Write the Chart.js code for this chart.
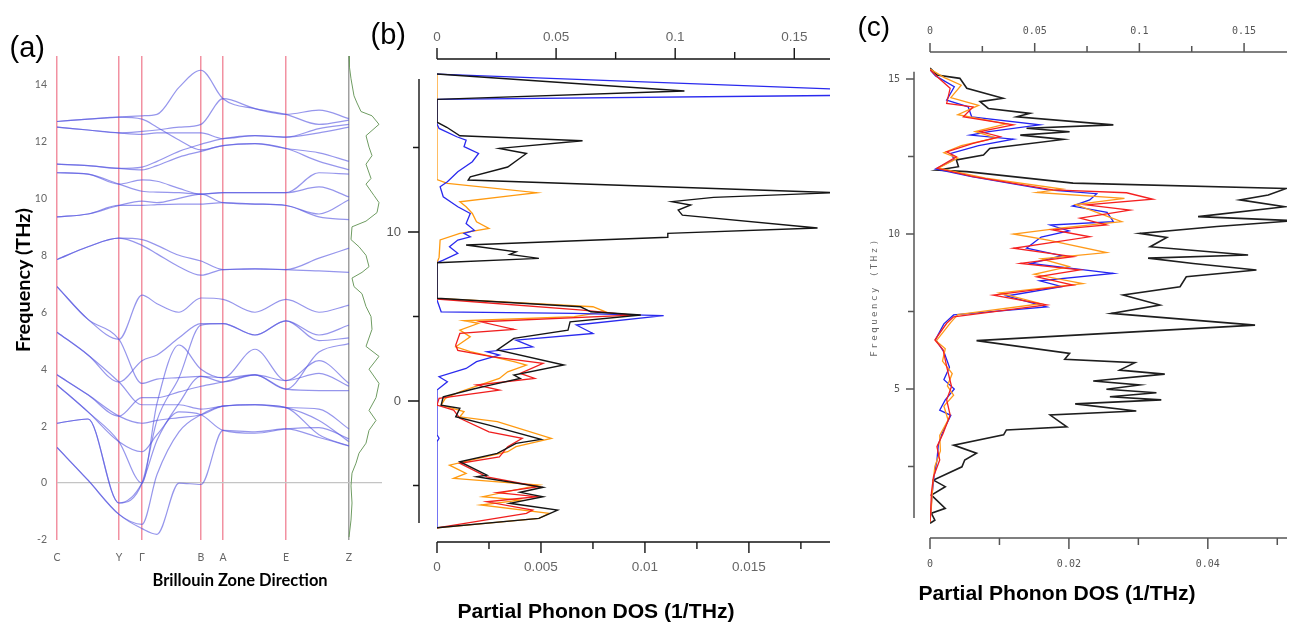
<!DOCTYPE html>
<html>
<head>
<meta charset="utf-8">
<script src="https://cdn.jsdelivr.net/npm/chart.js@4.4.1/dist/chart.umd.min.js"></script>
<style>
  body { margin: 0; background: #fff; width: 1294px; height: 625px; position: relative; overflow: hidden; }
  canvas { position: absolute; top: 0; }
</style>
</head>
<body>
<canvas id="bandChart" width="400" height="625" style="left:0"></canvas>
<canvas id="dosChartB" width="480" height="625" style="left:360px"></canvas>
<canvas id="dosChartC" width="454" height="625" style="left:840px"></canvas>
<script>
/*******  Data for panel (a): phonon band structure ******/
var kPos = [0, 31, 62, 85, 100, 122, 144, 166, 198, 229, 262, 292];
var kTickPos = [0, 62, 85, 144, 166, 229, 292];
var kLabels = ['C', 'Y', 'Γ', 'B', 'A', 'E', 'Z'];
var freqTicksA = [-2, 0, 2, 4, 6, 8, 10, 12, 14];

var bands = [
  [12.7, 12.78, 12.85, 12.9, 12.95, 13.9, 14.5, 13.5, 13.15, 12.95, 13.1, 12.8],
  [12.7, 12.78, 12.85, 12.78, 12.5, 12.05, 11.7, 11.85, 11.92, 11.75, 11.6, 11.3],
  [12.5, 12.4, 12.3, 12.35, 12.4, 12.5, 12.6, 13.5, 13.15, 12.95, 12.6, 12.75],
  [12.5, 12.4, 12.3, 12.25, 12.3, 12.3, 12.3, 12.1, 12.2, 12.15, 12.3, 12.5],
  [11.2, 11.15, 11.05, 11.1, 11.3, 11.65, 11.9, 12.1, 12.2, 12.15, 12.45, 12.6],
  [11.2, 11.15, 11.05, 11.0, 11.15, 11.45, 11.65, 11.85, 11.92, 11.75, 11.3, 11.0],
  [10.9, 10.85, 10.5, 10.65, 10.6, 10.35, 10.15, 10.2, 10.2, 10.2, 10.9, 10.85],
  [10.9, 10.85, 10.5, 10.25, 10.22, 10.2, 10.15, 10.2, 10.2, 10.2, 10.4, 10.05],
  [9.35, 9.45, 9.75, 9.9, 9.85, 10.0, 10.15, 9.85, 9.8, 9.75, 9.45, 9.95],
  [9.35, 9.45, 9.75, 9.75, 9.78, 9.8, 9.8, 9.85, 9.8, 9.75, 9.35, 9.25],
  [7.85, 8.3, 8.6, 8.55, 8.35, 8.0, 7.8, 7.5, 7.52, 7.5, 7.9, 8.25],
  [7.85, 8.3, 8.6, 8.35, 8.05, 7.6, 7.3, 7.5, 7.52, 7.5, 7.45, 7.4],
  [6.9, 5.75, 5.05, 6.6, 6.3, 6.0, 6.5, 6.45, 6.0, 6.45, 6.0, 6.25],
  [5.3, 4.5, 3.55, 4.3, 4.5, 5.1, 5.6, 5.6, 5.2, 5.7, 5.2, 5.55],
  [5.3, 4.5, 3.55, 2.75, 2.75, 2.75, 2.6, 2.7, 2.75, 2.65, 2.6, 1.9],
  [6.9, 5.75, 5.05, 3.5, 3.65, 3.7, 3.75, 3.7, 4.7, 3.6, 4.3, 3.5],
  [3.8, 3.1, 2.35, 3.0, 3.0, 3.2, 3.4, 3.55, 3.8, 3.3, 4.6, 4.9],
  [3.8, 3.1, 2.35, 2.1, 2.2, 2.3, 2.4, 2.7, 2.75, 2.65, 2.2, 1.45],
  [3.45, 2.5, 1.45, 1.1, 1.7, 2.5, 2.4, 1.85, 1.75, 1.9, 1.95, 1.55],
  [3.45, 2.5, 1.45, 0, 2.8, 4.85, 4.0, 3.7, 3.8, 3.6, 3.85, 3.4],
  [2.1, 2.25, -0.7, 0, 2.2, 3.7, 5.55, 5.6, 5.2, 5.7, 5.0, 5.1],
  [2.1, 2.25, -0.7, 0, 1.5, 2.8, 3.75, 3.55, 3.8, 3.3, 3.25, 3.25],
  [1.25, 0.1, -1.1, -1.45, 0.3, 1.8, 2.4, 2.7, 2.75, 2.65, 1.7, 1.3],
  [1.25, 0.1, -1.1, -1.6, -1.8, 0.0, -0.05, 1.85, 1.8, 1.9, 1.6, 1.3]
];

// total DOS drawn beside the Z point (frequency, relative DOS)
var totalDosFreq = [15.0, 14.6, 14.2, 13.6, 13.35, 13.05, 12.9, 12.6, 12.2, 11.8, 11.5, 11.2, 10.7, 10.5, 10.1, 9.85, 9.5, 9.2, 9.0, 8.55, 8.3, 8.0, 7.6, 7.4, 7.2, 6.9, 6.65, 6.2, 5.85, 5.4, 4.8, 4.45, 4.0, 3.5, 3.0, 2.55, 2.2, 1.85, 1.4, 1.05, 0.7, 0.35, -0.1, -0.7, -1.3, -1.9];
var totalDos = [0, 0.5, 2, 5, 8, 12, 23, 30, 17, 20, 23, 17, 22, 17, 25, 30, 28, 17, 3, 2, 10, 17, 20, 13, 3, 5, 13, 17, 22, 23, 17, 30, 20, 30, 27, 20, 27, 20, 17, 10, 7, 3, 2, 3, 2, 0];

/*******  Data for panel (b): partial DOS ******/
var bBlackFreq = [19.35, 18.35, 17.85, 16.5, 16.2, 15.7, 15.4, 14.95, 14.65, 13.85, 13.27, 13.08, 12.33, 12.05, 11.8, 11.6, 11.3, 11.0, 10.24, 9.92, 9.69, 9.23, 8.83, 8.68, 8.44, 8.18, 6.08, 5.58, 5.28, 5.09, 4.69, 4.2, 3.71, 3.02, 2.13, 1.54, 1.34, 0.9, 0.7, 0.25, -0.24, -0.43, -0.93, -1.42, -2.27, -2.5, -3.1, -3.59, -4.38, -4.48, -5.1, -5.4, -5.66, -6.05, -6.45, -6.94, -7.5];
var bBlackDos = [0, 0.0119, 0, 0, 0.00047, 0.0011, 0.0070, 0.0030, 0.0043, 0.0034, 0.0016, 0.0015, 0.0192, 0.0133, 0.0113, 0.0122, 0.0116, 0.0118, 0.0183, 0.0111, 0.0111, 0.0014, 0.0038, 0.0035, 0.0049, 0, 0, 0.0069, 0.0074, 0.0098, 0.0064, 0.0063, 0.0037, 0.0029, 0.0061, 0.0037, 0.0040, 0.0024, 0.0017, 0.0003, 0.0002, 0.0011, 0.0009, 0.0025, 0.0050, 0.0038, 0.0029, 0.0011, 0.0024, 0.0019, 0.0051, 0.0040, 0.0051, 0.0035, 0.0058, 0.0049, 0];

var bBlueFreq = [19.35, 18.4, 18.1, 17.85, 16.4, 16.13, 15.64, 15.44, 15.05, 14.65, 14.16, 13.57, 12.98, 12.68, 12.09, 11.5, 11.1, 10.5, 10.1, 9.92, 9.72, 9.53, 9.13, 8.74, 8.34, 8.18, 5.98, 5.28, 5.19, 5.05, 4.5, 4.0, 3.6, 3.21, 2.92, 2.72, 2.33, 1.93, 1.44, 1.14, 0.65, -2.0, -2.2, -2.4, -7.5];
var bBlueDos = [0, 0.0205, 0.0205, 0, 0, 0.0001, 0.00095, 0.0014, 0.0013, 0.0020, 0.0017, 0.0010, 0.0005, 0.00015, 0.0003, 0.0010, 0.0016, 0.0014, 0.0018, 0.0013, 0.0016, 0.0010, 0.0006, 0.0010, 0.0003, 0, 0, 0.0002, 0.0066, 0.0109, 0.0067, 0.0075, 0.0038, 0.0046, 0.0024, 0.0030, 0.0019, 0.0014, 0.0001, 0.0005, 0, 0, 0.0001, 0, 0];

var bOrangeFreq = [19.35, 13.1, 12.88, 12.33, 12.19, 11.79, 11.5, 11.1, 10.61, 10.21, 9.92, 9.53, 8.5, 8.18, 6.08, 5.58, 5.28, 4.99, 4.75, 4.6, 4.2, 3.8, 3.21, 2.92, 2.33, 2.13, 1.73, 1.34, 0.89, 0.55, 0.16, -0.24, -0.63, -0.93, -1.22, -2.21, -2.7, -3.0, -3.79, -4.28, -4.57, -4.97, -5.66, -5.86, -6.15, -6.65, -6.94, -7.5];
var bOrangeDos = [0, 0, 0.0005, 0.0048, 0.0038, 0.0011, 0.0014, 0.0017, 0.0019, 0.0025, 0.0011, 0.00015, 0.0001, 0, 0, 0.0075, 0.0081, 0.0066, 0.0013, 0.0020, 0.0011, 0.0016, 0.0009, 0.0016, 0.0037, 0.0043, 0.0034, 0.0030, 0.0019, 0.0011, 0.0004, 0.0002, 0.0013, 0.0011, 0.0029, 0.0055, 0.0038, 0.0034, 0.0006, 0.0014, 0.0008, 0.0049, 0.0022, 0.0040, 0.0021, 0.0054, 0.0049, 0];

var bRedFreq = [6.04, 5.38, 5.09, 4.69, 4.24, 4.0, 3.31, 3.0, 2.62, 2.23, 1.64, 1.34, 0.95, 0.65, 0.16, -0.24, -0.53, -1.02, -1.82, -2.21, -2.7, -3.3, -3.69, -4.48, -5.07, -5.42, -5.66, -5.96, -6.45, -6.65, -7.5];
var bRedDos = [0, 0.0070, 0.0094, 0.0021, 0.0037, 0.0011, 0.0009, 0.0010, 0.0027, 0.0051, 0.0040, 0.0047, 0.0019, 0.0030, 0.0001, 0, 0.0008, 0.0011, 0.0025, 0.0041, 0.0034, 0.0030, 0.0011, 0.0024, 0.0049, 0.0029, 0.0048, 0.0024, 0.0046, 0.0043, 0];

var bBottomTicks = [0, 0.005, 0.01, 0.015];
var bTopTicks = [0, 0.05, 0.1, 0.15];
var bFreqTicks = [-5, 0, 5, 10, 15];

/*******  Data for panel (c): partial DOS ******/
var cBlackFreq = [15.35, 15.13, 15.02, 14.7, 14.38, 14.27, 14.05, 13.89, 13.78, 13.52, 13.41, 13.3, 13.19, 13.05, 12.76, 12.55, 12.39, 12.17, 12.06, 12.01, 11.64, 11.47, 11.26, 11.1, 10.88, 10.56, 10.43, 10.24, 10.02, 9.89, 9.59, 9.32, 9.22, 9.05, 8.84, 8.62, 8.3, 8.03, 7.71, 7.44, 7.06, 6.56, 6.15, 5.96, 5.85, 5.61, 5.48, 5.26, 5.13, 4.99, 4.88, 4.75, 4.65, 4.52, 4.29, 4.16, 3.78, 3.68, 3.52, 3.19, 2.93, 2.71, 2.49, 2.06, 1.85, 1.58, 1.15, 0.99, 0.77, 0.67];
var cBlackDos = [0, 0.0010, 0.0043, 0.0053, 0.0105, 0.0072, 0.0084, 0.0144, 0.0125, 0.0264, 0.0139, 0.0201, 0.0130, 0.0192, 0.0086, 0.0077, 0.0038, 0.0041, 0.0010, 0.0053, 0.0206, 0.0513, 0.0487, 0.0446, 0.0511, 0.0386, 0.0525, 0.0413, 0.0302, 0.0341, 0.0317, 0.0458, 0.0314, 0.0379, 0.0470, 0.0369, 0.0360, 0.0278, 0.0331, 0.0261, 0.0468, 0.0067, 0.0201, 0.0194, 0.0295, 0.0273, 0.0338, 0.0235, 0.0302, 0.0254, 0.0326, 0.0259, 0.0333, 0.0209, 0.0297, 0.0173, 0.0197, 0.0110, 0.0106, 0.0034, 0.0067, 0.0050, 0.0046, 0.0005, 0.0022, 0.0002, 0.0022, 0.0002, 0.0007, 0];

var cRedFreq = [15.3, 15.08, 14.7, 14.21, 14.1, 13.78, 13.52, 13.3, 13.14, 12.92, 12.65, 12.49, 12.12, 11.85, 11.42, 11.33, 11.12, 10.94, 10.77, 10.51, 10.29, 10.13, 9.91, 9.54, 9.27, 9.05, 8.84, 8.62, 8.35, 8.03, 7.71, 7.33, 7.12, 6.58, 6.26, 5.72, 5.08, 4.65, 4.16, 3.57, 3.14, 2.71, 2.17, 1.64, 0.99, 0.72];
var cRedDos = [0, 0.0010, 0.0029, 0.0024, 0.0062, 0.0048, 0.0120, 0.0072, 0.0101, 0.0062, 0.0024, 0.0038, 0.0010, 0.0062, 0.0177, 0.0283, 0.0321, 0.0225, 0.0288, 0.0216, 0.0254, 0.0177, 0.0230, 0.0120, 0.0206, 0.0130, 0.0216, 0.0154, 0.0206, 0.0091, 0.0168, 0.0034, 0.0024, 0.0007, 0.0019, 0.0024, 0.0031, 0.0024, 0.0029, 0.0019, 0.0010, 0.0014, 0.0005, 0.0002, 0.0001, 0];

var cBlueFreq = [15.3, 15.1, 14.75, 14.32, 14.1, 13.78, 13.52, 13.3, 13.19, 13.06, 12.85, 12.6, 12.4, 12.1, 11.85, 11.42, 11.3, 11.1, 10.9, 10.7, 10.4, 10.29, 10.1, 9.9, 9.54, 9.3, 9.05, 8.73, 8.49, 8.3, 8.0, 7.65, 7.39, 7.1, 6.6, 6.2, 5.7, 5.3, 5.0, 4.65, 4.32, 4.15, 3.6, 3.2, 2.7, 2.2, 1.6, 1.0, 0.72];
var cBlueDos = [0, 0.0008, 0.0035, 0.0024, 0.0055, 0.0060, 0.0158, 0.0085, 0.0058, 0.0120, 0.0070, 0.0030, 0.0035, 0.0008, 0.0060, 0.0170, 0.0240, 0.0230, 0.0205, 0.0255, 0.0264, 0.0173, 0.0200, 0.0160, 0.0139, 0.0190, 0.0145, 0.0264, 0.0158, 0.0190, 0.0110, 0.0168, 0.0034, 0.0020, 0.0008, 0.0020, 0.0028, 0.0020, 0.0035, 0.0022, 0.0014, 0.0030, 0.0018, 0.0012, 0.0010, 0.0006, 0.0003, 0.0001, 0];

var cOrangeFreq = [15.32, 15.05, 14.8, 14.4, 14.15, 13.85, 13.55, 13.3, 13.1, 12.85, 12.62, 12.45, 12.12, 11.8, 11.45, 11.34, 11.15, 10.95, 10.7, 10.4, 10.2, 10.0, 9.8, 9.4, 9.2, 8.95, 8.7, 8.4, 8.1, 7.75, 7.4, 7.15, 6.55, 6.3, 5.9, 5.5, 5.1, 4.8, 4.45, 4.0, 3.5, 3.0, 2.5, 1.9, 1.2, 0.7];
var cOrangeDos = [0, 0.0020, 0.0045, 0.0030, 0.0070, 0.0040, 0.0110, 0.0065, 0.0095, 0.0045, 0.0020, 0.0040, 0.0012, 0.0080, 0.0190, 0.0154, 0.0280, 0.0210, 0.0240, 0.0276, 0.0190, 0.0120, 0.0170, 0.0254, 0.0160, 0.0200, 0.0150, 0.0220, 0.0100, 0.0160, 0.0040, 0.0030, 0.0009, 0.0022, 0.0018, 0.0032, 0.0025, 0.0034, 0.0020, 0.0026, 0.0014, 0.0015, 0.0007, 0.0004, 0.0002, 0];

var cBottomTicks = [0, 0.02, 0.04];
var cTopTicks = [0, 0.05, 0.1, 0.15];
var cFreqTicks = [2.5, 5, 7.5, 10, 12.5, 15];


/*******  Helpers ******/
function series(freq, dos, color, width, order) {
  return {
    data: freq.map(function (f, i) { return { x: dos[i], y: f }; }),
    borderColor: color, borderWidth: width, pointRadius: 0, tension: 0, order: order
  };
}

function setTicks(values) {
  return function (scale) { scale.ticks = values.map(function (v) { return { value: v }; }); };
}

// axis lines and tick marks with their own extents
function axisPlugin(spec) {
  return {
    id: 'axisLines',
    afterDraw: function (chart) {
      var ctx = chart.ctx;
      ctx.save();
      ctx.strokeStyle = spec.color;
      ctx.lineWidth = spec.width;
      ctx.beginPath();
      spec.axes.forEach(function (a) {
        var s = chart.scales[a.id];
        var px = function (v) { return s.getPixelForValue(v); };
        if (s.isHorizontal()) {
          var y = s.position === 'top' ? s.bottom : s.top;
          var d = s.position === 'top' ? -1 : 1;
          ctx.moveTo(px(a.from), y); ctx.lineTo(s.right, y);
          a.major.forEach(function (v) { ctx.moveTo(px(v), y); ctx.lineTo(px(v), y + d * a.majorLen); });
          a.minor.forEach(function (v) { ctx.moveTo(px(v), y); ctx.lineTo(px(v), y + d * a.minorLen); });
        } else {
          var x = s.right - a.shift;
          ctx.moveTo(x, px(a.from)); ctx.lineTo(x, px(a.to));
          a.major.forEach(function (v) { ctx.moveTo(x, px(v)); ctx.lineTo(x - a.majorLen, px(v)); });
          a.minor.forEach(function (v) { ctx.moveTo(x, px(v)); ctx.lineTo(x - a.minorLen, px(v)); });
        }
      });
      ctx.stroke();
      ctx.restore();
    }
  };
}

function label(text, o) {
  var el = document.createElement('div');
  el.textContent = text;
  el.style.cssText = 'position:absolute;white-space:nowrap;line-height:1;font:' + (o.weight || 'normal') + ' ' + o.size + 'px ' + o.family + ';color:' + (o.color || '#000');
  document.body.appendChild(el);
  if (o.width && o.spread) {
    el.style.letterSpacing = ((o.width - el.offsetWidth) / text.length) + 'px';
  } else if (o.width) {
    el.style.fontSize = (o.size * o.width / el.offsetWidth) + 'px';
  }
  var w = el.offsetWidth, h = el.offsetHeight;
  el.style.left = (o.cx - w / 2) + 'px';
  el.style.top = (o.cy - h / 2) + 'px';
  if (o.rotate) el.style.transform = 'rotate(-90deg)';
  return el;
}


/*******  Panel (a) ******/
var zPos = kPos[kPos.length - 1];
var bandSets = bands.map(function (b) {
  return {
    data: b.map(function (f, i) { return { x: kPos[i], y: f }; }),
    borderColor: 'rgba(85,85,225,0.62)', borderWidth: 1.2, pointRadius: 0,
    cubicInterpolationMode: 'monotone'
  };
});
bandSets.push({
  data: totalDosFreq.map(function (f, i) { return { x: zPos + totalDos[i], y: f }; }),
  borderColor: '#6f9c62', borderWidth: 1, pointRadius: 0, tension: 0
});

new Chart(document.getElementById('bandChart'), {
  type: 'line',
  data: { datasets: bandSets },
  options: {
    responsive: false, animation: false,
    layout: { padding: { top: 56, right: 18, left: 0, bottom: 0 } },
    plugins: { legend: { display: false }, tooltip: { enabled: false } },
    scales: {
      x: {
        type: 'linear', min: 0, max: 325,
        afterBuildTicks: setTicks(kTickPos),
        afterFit: function (s) { s.height = 85; },
        ticks: { callback: function (v, i) { return kLabels[i]; }, autoSkip: false, maxRotation: 0,
                 color: '#666', font: { family: 'Lato', size: 10.5 }, padding: 11 },
        grid: { drawTicks: false, lineWidth: 1.5,
                color: function (c) { return c.index === kTickPos.length - 1 ? '#a0a0a0' : '#f291a1'; } },
        border: { display: false }
      },
      y: {
        type: 'linear', min: -2, max: 15,
        afterBuildTicks: setTicks(freqTicksA),
        afterFit: function (s) { s.width = 57; },
        ticks: { color: '#666', font: { family: 'Lato', size: 10.5 }, padding: 10 },
        grid: { drawTicks: false, lineWidth: 1.2,
                color: function (c) { return c.tick && c.tick.value === 0 ? '#c4c4c4' : 'rgba(0,0,0,0)'; } },
        border: { display: false }
      }
    }
  }
});


/*******  Panel (b) ******/
new Chart(document.getElementById('dosChartB'), {
  type: 'line',
  data: {
    datasets: [
      series(bBlackFreq, bBlackDos, '#151515', 1.4, 0),
      series(bRedFreq, bRedDos, '#f01e1e', 1.3, 1),
      series(bBlueFreq, bBlueDos, '#2a2aee', 1.3, 2),
      series(bOrangeFreq, bOrangeDos, '#ff9a10', 1.3, 3)
    ]
  },
  options: {
    responsive: false, animation: false,
    layout: { padding: { top: 0, right: 10, left: 0, bottom: 0 } },
    plugins: { legend: { display: false }, tooltip: { enabled: false } },
    scales: {
      x: {
        type: 'linear', position: 'bottom', min: 0, max: 0.0189,
        afterBuildTicks: setTicks(bBottomTicks),
        afterFit: function (s) { s.height = 83; },
        ticks: { callback: function (v) { return String(v); }, color: '#666', font: { family: 'Liberation Sans', size: 13.5 }, padding: 17, maxRotation: 0 },
        grid: { display: false, drawTicks: false }, border: { display: false }
      },
      x2: {
        type: 'linear', position: 'top', min: 0, max: 0.165,
        afterBuildTicks: setTicks(bTopTicks),
        afterFit: function (s) { s.height = 59; },
        ticks: { callback: function (v) { return String(v); }, color: '#666', font: { family: 'Liberation Sans', size: 13.5 }, padding: 14, maxRotation: 0 },
        grid: { display: false, drawTicks: false }, border: { display: false }
      },
      y: {
        type: 'linear', min: -8.34, max: 20.24,
        afterBuildTicks: setTicks(bFreqTicks),
        afterFit: function (s) { s.width = 77; },
        ticks: { callback: function (v) { return (v === 0 || v === 10) ? String(v) : ''; }, color: '#555', font: { family: 'Liberation Sans', size: 13 }, padding: 36 },
        grid: { display: false, drawTicks: false }, border: { display: false }
      }
    }
  },
  plugins: [axisPlugin({
    color: '#151515', width: 1.4,
    axes: [
      { id: 'x2', from: 0, major: bTopTicks, minor: [0.025, 0.075, 0.125], majorLen: 11, minorLen: 7 },
      { id: 'x', from: 0, major: bBottomTicks, minor: [0.0025, 0.0075, 0.0125, 0.0175], majorLen: 11, minorLen: 7 },
      { id: 'y', from: -7.22, to: 19.05, shift: 18, major: [0, 10], minor: [-5, 5, 15], majorLen: 11, minorLen: 6 }
    ]
  })]
});


/*******  Panel (c) ******/
new Chart(document.getElementById('dosChartC'), {
  type: 'line',
  data: {
    datasets: [
      series(cBlackFreq, cBlackDos, '#1e1e1e', 1.6, 3),
      series(cRedFreq, cRedDos, '#f52020', 1.3, 0),
      series(cBlueFreq, cBlueDos, '#2323f0', 1.3, 2),
      series(cOrangeFreq, cOrangeDos, '#ff9a1a', 1.3, 1)
    ]
  },
  options: {
    responsive: false, animation: false,
    layout: { padding: { top: 0, right: 7, left: 0, bottom: 0 } },
    plugins: { legend: { display: false }, tooltip: { enabled: false } },
    scales: {
      x: {
        type: 'linear', position: 'bottom', min: 0, max: 0.0514,
        afterBuildTicks: setTicks(cBottomTicks),
        afterFit: function (s) { s.height = 87; },
        ticks: { callback: function (v) { return String(v); }, color: '#555', font: { family: 'DejaVu Sans Mono', size: 10 }, padding: 20, maxRotation: 0 },
        grid: { display: false, drawTicks: false }, border: { display: false }
      },
      x2: {
        type: 'linear', position: 'top', min: 0, max: 0.1705,
        afterBuildTicks: setTicks(cTopTicks),
        afterFit: function (s) { s.height = 52; },
        ticks: { callback: function (v) { return String(v); }, color: '#555', font: { family: 'DejaVu Sans Mono', size: 10 }, padding: 15, maxRotation: 0 },
        grid: { display: false, drawTicks: false }, border: { display: false }
      },
      y: {
        type: 'linear', min: 0.194, max: 15.87,
        afterBuildTicks: setTicks(cFreqTicks),
        afterFit: function (s) { s.width = 90; },
        ticks: { callback: function (v) { return (v % 5 === 0) ? String(v) : ''; }, color: '#555', font: { family: 'DejaVu Sans Mono', size: 10 }, padding: 30 },
        grid: { display: false, drawTicks: false }, border: { display: false }
      }
    }
  },
  plugins: [axisPlugin({
    color: '#555', width: 1.5,
    axes: [
      { id: 'x2', from: 0, major: cTopTicks, minor: [0.025, 0.075, 0.125], majorLen: 9, minorLen: 6 },
      { id: 'x', from: 0, major: cBottomTicks, minor: [0.01, 0.03, 0.05], majorLen: 11, minorLen: 7 },
      { id: 'y', from: 0.84, to: 15.23, shift: 16, major: [5, 10, 15], minor: [2.5, 7.5, 12.5], majorLen: 8, minorLen: 6 }
    ]
  })]
});


/*******  Panel letters and axis titles ******/
label('(a)', { cx: 27, cy: 47, size: 29, family: 'Liberation Sans' });
label('(b)', { cx: 388, cy: 34, size: 29, family: 'Liberation Sans' });
label('(c)', { cx: 874, cy: 27, size: 28, family: 'Liberation Sans' });
label('Frequency (THz)', { cx: 22, cy: 280, size: 16, weight: 'bold', family: 'Lato', width: 144, rotate: true });
label('Brillouin Zone Direction', { cx: 240, cy: 580, size: 16, weight: 'bold', family: 'Lato', width: 175 });
label('Partial Phonon DOS (1/THz)', { cx: 596, cy: 611, size: 19, weight: 'bold', family: 'Liberation Sans', width: 277 });
label('Partial Phonon DOS (1/THz)', { cx: 1057, cy: 593, size: 19, weight: 'bold', family: 'Liberation Sans', width: 277 });
label('Frequency (THz)', { cx: 873, cy: 297, size: 9, family: 'DejaVu Sans Mono', color: '#666', width: 119, spread: true, rotate: true });
</script>
</body>
</html>
